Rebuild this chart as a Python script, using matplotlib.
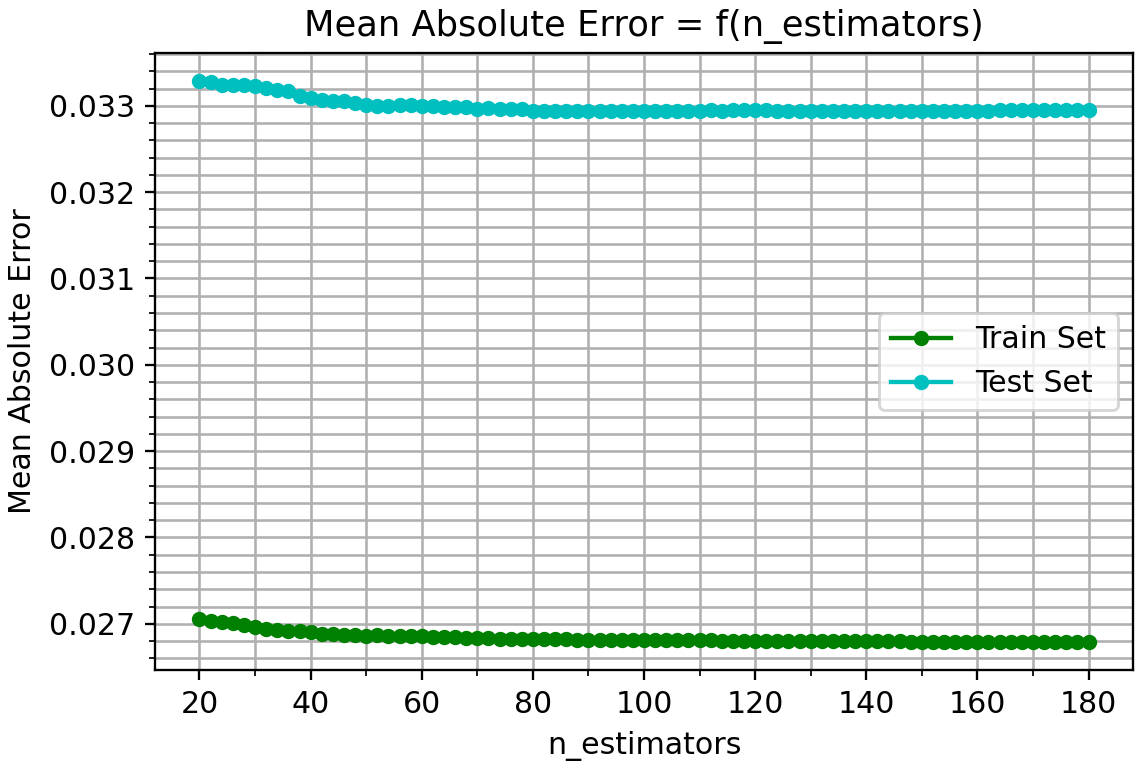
import matplotlib
matplotlib.use("Agg")
import matplotlib.pyplot as plt
from matplotlib.ticker import MultipleLocator

plt.rcParams["font.size"] = 10.4

n_estimators = list(range(20, 181, 2))

train_mae = [
    0.027055, 0.027035, 0.027020, 0.027008, 0.026988, 0.026965, 0.026942, 0.026930,
    0.026922, 0.026918, 0.026899, 0.026884, 0.026880, 0.026872, 0.026868, 0.026864,
    0.026868, 0.026864, 0.026860, 0.026857, 0.026853, 0.026849, 0.026841, 0.026841,
    0.026837, 0.026833, 0.026830, 0.026826, 0.026826, 0.026826, 0.026818, 0.026822,
    0.026818, 0.026818, 0.026815, 0.026814,
    0.026815, 0.026814, 0.026814, 0.026813, 0.026812,
    0.026811, 0.026810, 0.026810, 0.026809, 0.026808,
    0.026807, 0.026806, 0.026806, 0.026805, 0.026804,
    0.026803, 0.026802, 0.026802, 0.026801, 0.026800,
    0.026799, 0.026798, 0.026798, 0.026797, 0.026796,
    0.026796, 0.026795, 0.026795, 0.026794, 0.026794,
    0.026793, 0.026793, 0.026792, 0.026792, 0.026791,
    0.026791, 0.026791, 0.026790, 0.026790, 0.026790,
    0.026790, 0.026789, 0.026789, 0.026789, 0.026789,
]

test_mae = [
    0.033287, 0.033272, 0.033244, 0.033241, 0.033245, 0.033233, 0.033202, 0.033186,
    0.033174, 0.033116, 0.033093, 0.033066, 0.033055, 0.033051, 0.033031, 0.033012,
    0.033000, 0.033000, 0.033012, 0.033008, 0.033000, 0.032998, 0.032981, 0.032981,
    0.032990, 0.032969, 0.032973, 0.032969, 0.032969, 0.032962, 0.032946,
    0.032944, 0.032943, 0.032943, 0.032942, 0.032944,
    0.032945, 0.032940, 0.032942, 0.032938, 0.032941,
    0.032943, 0.032944, 0.032945, 0.032944, 0.032946,
    0.032947, 0.032946, 0.032948, 0.032952, 0.032948,
    0.032947, 0.032946, 0.032946, 0.032944, 0.032944,
    0.032942, 0.032938, 0.032937, 0.032940, 0.032941,
    0.032940, 0.032939, 0.032938, 0.032940, 0.032941,
    0.032942, 0.032942, 0.032943, 0.032944, 0.032945,
    0.032946, 0.032947, 0.032948, 0.032949, 0.032950,
    0.032951, 0.032952, 0.032954, 0.032955, 0.032955,
]

fig = plt.figure(figsize=(1135 / 208, 762 / 208), dpi=208)
ax = fig.add_axes([0.1366, 0.1207, 0.8616, 0.8097])

ax.plot(n_estimators, train_mae, "o-", color="g", markersize=4.3, label="Train Set")
ax.plot(n_estimators, test_mae, "o-", color="c", markersize=4.3, label="Test Set")

ax.xaxis.set_major_locator(MultipleLocator(20))
ax.xaxis.set_minor_locator(MultipleLocator(10))
ax.yaxis.set_major_locator(MultipleLocator(0.001))
ax.yaxis.set_minor_locator(MultipleLocator(0.0002))
ax.grid(True, which="both", linewidth=0.9)

ax.set_title("Mean Absolute Error = f(n_estimators)", fontsize=12.2)
ax.set_xlabel("n_estimators")
ax.set_ylabel("Mean Absolute Error")
ax.legend(loc="center right")

fig.savefig("out.png", dpi=208)
